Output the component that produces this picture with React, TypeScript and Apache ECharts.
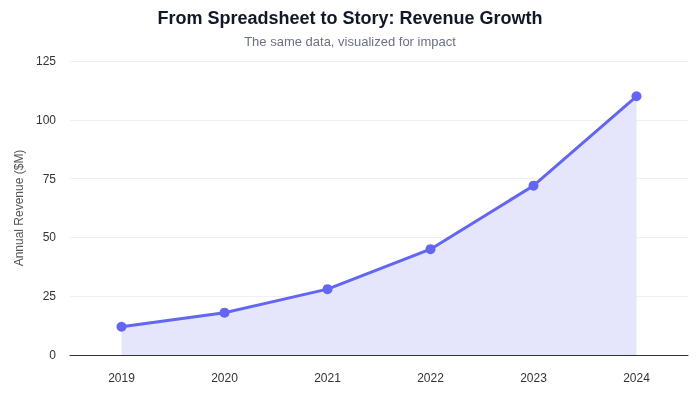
import { useEffect, useRef } from 'react';
import * as echarts from 'echarts';

const years = ['2019', '2020', '2021', '2022', '2023', '2024'];
const revenue = [12, 18, 28, 45, 72, 110];

const FONT = '"Liberation Sans", Arial, Helvetica, sans-serif';

export default function App() {
    const chartRef = useRef<HTMLDivElement>(null);

    useEffect(() => {
        const myChart = echarts.init(chartRef.current, null, { renderer: 'svg' });

        myChart.setOption({
            animation: false,
            textStyle: { fontFamily: FONT },
            title: {
                left: 'center',
                top: 4,
                text: 'From Spreadsheet to Story: Revenue Growth',
                subtext: 'The same data, visualized for impact',
                itemGap: 8,
                textStyle: { fontSize: 18, fontWeight: 'bold', color: '#111827', fontFamily: FONT },
                subtextStyle: { fontSize: 13, color: '#6b7280', fontFamily: FONT },
            },
            grid: { left: 70, right: 12, top: 61, bottom: 45 },
            xAxis: {
                type: 'category',
                data: years,
                axisTick: { show: false },
                axisLine: { lineStyle: { color: '#333333', width: 1 } },
                axisLabel: { color: '#333333', fontSize: 12, margin: 17 },
            },
            yAxis: {
                type: 'value',
                min: 0,
                max: 125,
                interval: 25,
                name: 'Annual Revenue ($M)',
                nameLocation: 'middle',
                nameGap: 42,
                nameTextStyle: { color: '#555555', fontSize: 12 },
                axisLabel: { color: '#333333', fontSize: 12, margin: 14 },
                splitLine: { lineStyle: { color: '#f0f0f0' } },
            },
            series: [
                {
                    type: 'line',
                    data: revenue,
                    symbol: 'circle',
                    symbolSize: 10,
                    lineStyle: { color: '#6366f1', width: 3 },
                    itemStyle: { color: '#6366f1' },
                    areaStyle: { color: '#e5e6fb', opacity: 1 },
                },
            ],
        });

        return () => {
            myChart.dispose();
        };
    }, []);

    return (
        <div
            ref={chartRef}
            style={{ position: 'fixed', left: 0, top: 0, width: '700px', height: '400px' }}
        />
    );
}
